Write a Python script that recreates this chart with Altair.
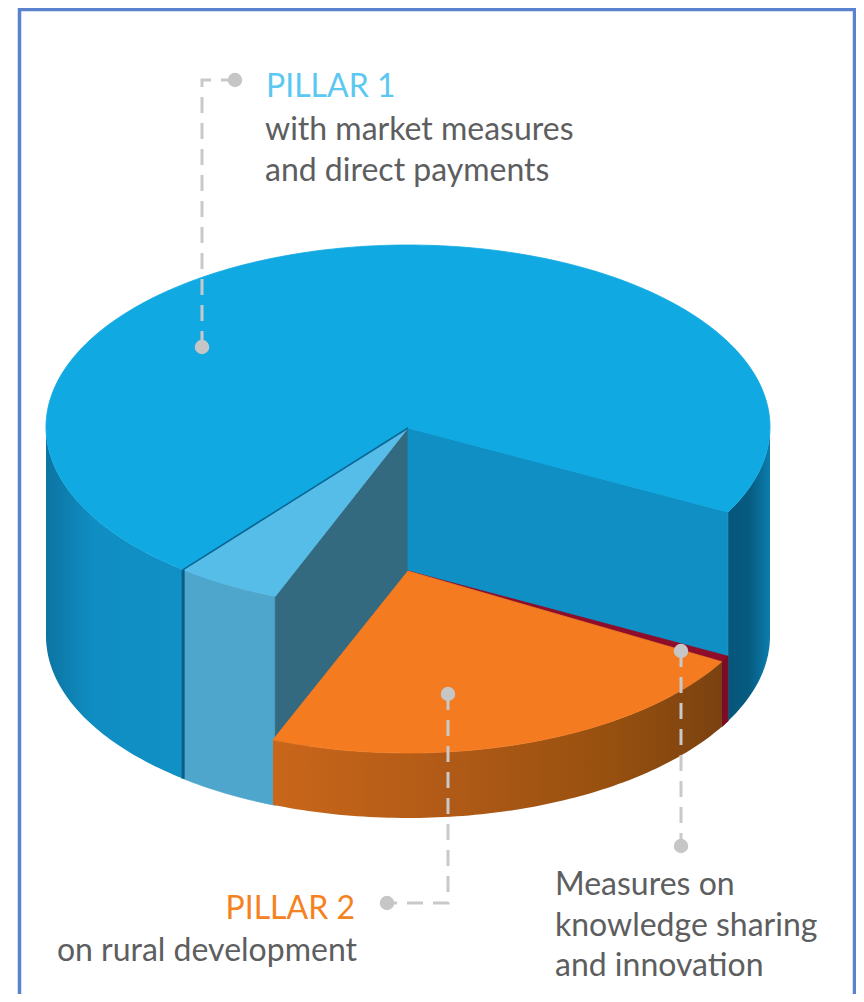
import math
import altair as alt
import pandas as pd

# pie slices: start / end angle in degrees, clockwise from the right-hand edge
slice_names = ["Knowledge sharing", "Pillar 2", "Pillar 1 cut", "Pillar 1 main"]
slice_start = [27.9, 29.9, 111.5, 128.4]
slice_end = [29.9, 111.9, 128.4, 387.9]

CX, CY, RX, RY, DEPTH = 408, 427, 362, 182, 209
DROP = 144  # how far the removed slices sit below the top face


def arc(a0, a1, dy=0.0):
    n = max(2, int(abs(a1 - a0)) + 1)
    out = []
    for k in range(n + 1):
        t = math.radians(a0 + (a1 - a0) * k / n)
        out.append((CX + RX * math.cos(t), CY + dy + RY * math.sin(t)))
    return out


def poly(points, fill, stroke=None, sw=0.8):
    df = pd.DataFrame([{"x": p[0], "y": p[1], "i": i} for i, p in enumerate(points + points[:1])])
    return (
        alt.Chart(df)
        .mark_line(fill=fill, stroke=stroke if stroke else (fill if isinstance(fill, str) else "transparent"),
                   strokeWidth=sw, strokeJoin="round")
        .encode(x=X, y=Y, order=alt.Order("i:Q"))
    )


def grad(stops):
    return alt.Gradient(gradient="linear", x1=0, x2=1, y1=0, y2=0,
                        stops=[alt.GradientStop(offset=o, color=c) for o, c in stops])


def path(points, color, width, dash=None):
    df = pd.DataFrame([{"x": p[0], "y": p[1], "i": i} for i, p in enumerate(points)])
    kw = {"strokeDash": dash} if dash else {}
    return (alt.Chart(df).mark_line(color=color, strokeWidth=width, **kw)
            .encode(x=X, y=Y, order=alt.Order("i:Q")))


X = alt.X("x:Q", axis=None, scale=alt.Scale(domain=[8, 856], zero=False, nice=False))
Y = alt.Y("y:Q", axis=None, scale=alt.Scale(domain=[994, 8], zero=False, nice=False))

red_a0, red_a1 = slice_start[0], slice_end[0]
or_a0, or_a1 = slice_start[1], slice_end[1]
cut_a0, cut_a1 = slice_start[2], slice_end[2]
main_a0, main_a1 = slice_start[3], slice_end[3]

apex = (CX, CY + 1)
apex2 = (CX, CY + DROP)

layers = []
# outer walls of Pillar 1
layers.append(poly(arc(main_a0, 180) + arc(180, main_a0, DEPTH),
                   grad([(0, "#0c74a2"), (0.35, "#108ec3"), (1, "#1090c5")])))
layers.append(poly(arc(360, main_a1) + arc(main_a1, 360, DEPTH),
                   grad([(0, "#05577a"), (0.5, "#065b80"), (1, "#0c7dac")])))
# cut-away wall side
layers.append(poly(arc(cut_a0, cut_a1) + arc(cut_a1, cut_a0, DEPTH), "#4fa6cc"))
# inner walls exposed by the removed slices
p_l = arc(cut_a0, cut_a0)[0]
p_r = arc(main_a1, main_a1)[0]
layers.append(poly([apex, p_l, (p_l[0], p_l[1] + DEPTH), apex2], "#336a80"))
layers.append(poly([apex, p_r, (p_r[0], p_r[1] + DEPTH), apex2], "#0f8fc3"))
# knowledge sharing sliver
layers.append(poly([apex2] + arc(red_a0, red_a1, DROP), "#8e0d2a"))
layers.append(poly(arc(red_a0, red_a1, DROP) + arc(red_a1, red_a0, DEPTH), "#7c0c24"))
# pillar 2 wall and top
layers.append(poly(arc(or_a0, or_a1, DROP) + arc(or_a1, or_a0, DEPTH),
                   grad([(0, "#c9661a"), (0.4, "#b05a17"), (0.75, "#97500f"), (1, "#7a4210")])))
layers.append(poly([apex2] + arc(or_a0, or_a1, DROP), "#f47b20"))
# top faces
layers.append(poly([apex] + arc(cut_a0, cut_a1), "#56bce8"))
layers.append(poly([apex] + arc(main_a0, main_a1), "#10a9e2"))
# dark seams
pc = arc(main_a0, main_a0)[0]
layers.append(path([pc, (pc[0], pc[1] + DEPTH)], "#0a5e88", 3))
layers.append(path([apex, pc], "#0a6594", 1.5))

# frame
FRAME = "#5b82cf"
layers.append(path([(19.5, 994), (19.5, 9.5), (854.5, 9.5), (854.5, 994)], FRAME, 3.5))

# leader lines
GUIDE = "#c9c9c9"
DASH = [16, 10]
leaders = [
    [(202, 347), (202, 80), (235, 80)],
    [(448, 694), (448, 903), (387, 903)],
    [(681, 651), (681, 846)],
]
for pts in leaders:
    layers.append(path(pts, GUIDE, 3, DASH))
dot_x = [202, 235, 448, 387, 681, 681]
dot_y = [347, 80, 694, 903, 651, 846]
layers.append(alt.Chart(pd.DataFrame({"x": dot_x, "y": dot_y}))
              .mark_circle(size=210, opacity=1, color="#c6c6c6").encode(x=X, y=Y))

# text
FONT = "Lato"
GREY = "#5d5e60"
text_rows = [
    ("PILLAR 1", 266, 97, "left", 32, "#5cc8f2"),
    ("with market measures", 265, 140, "left", 32, GREY),
    ("and direct payments", 265, 181, "left", 32, GREY),
    ("PILLAR 2", 355, 919, "right", 32, "#f58220"),
    ("on rural development", 357, 961, "right", 32, GREY),
    ("Measures on", 555, 895, "left", 32, GREY),
    ("knowledge sharing", 555, 936, "left", 32, GREY),
    ("and innovation", 555, 976, "left", 32, GREY),
]
for s, x, y, al, fs, col in text_rows:
    layers.append(alt.Chart(pd.DataFrame({"x": [x], "y": [y], "t": [s]}))
                  .mark_text(font=FONT, fontSize=fs, align=al, baseline="alphabetic", color=col)
                  .encode(x=X, y=Y, text="t:N"))

chart = (
    alt.layer(*layers)
    .properties(width=848, height=986, padding=0, background="white",
                autosize=alt.AutoSizeParams(type="none"))
    .configure_view(stroke=None)
)
chart.save("out.html", embed_options={"renderer": "svg", "actions": False})
